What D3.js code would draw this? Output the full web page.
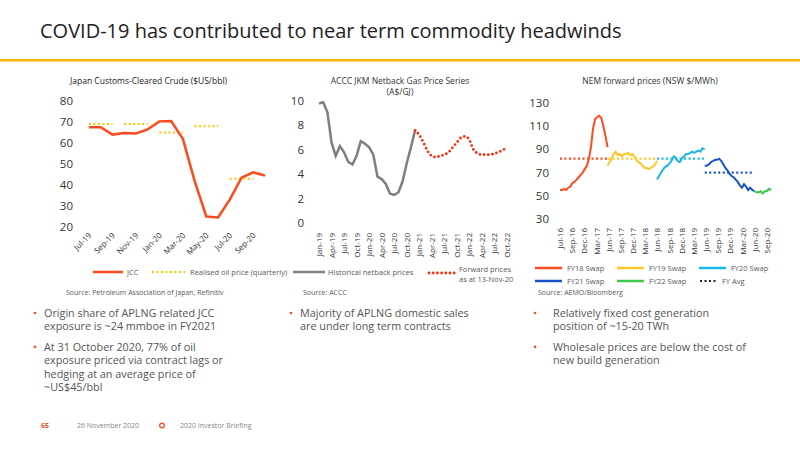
<!DOCTYPE html>
<html><head><meta charset="utf-8">
<script src="https://cdn.jsdelivr.net/npm/d3@7"></script>
<style>body{margin:0;background:#fff}text{font-family:"Open Sans",sans-serif}</style>
</head><body><svg id="s" width="800" height="450"></svg>
<script>
// ---- Chart 1 data
const jccMonths = ["Jul-19","Aug-19","Sep-19","Oct-19","Nov-19","Dec-19","Jan-20","Feb-20","Mar-20","Apr-20","May-20","Jun-20","Jul-20","Aug-20","Sep-20","Oct-20"];
const jccTickLabels = ["Jul-19","Sep-19","Nov-19","Jan-20","Mar-20","May-20","Jul-20","Sep-20"];
const jccValues = [67.5,67.5,64,64.8,64.5,66.5,70.3,70.5,62,42,25,24.5,33,43.5,46,44.5];
const realisedStart = ["Jul-19","Oct-19","Jan-20","Apr-20","Jul-20"];
const realisedValues = [69,69,65,68,43];
// ---- Chart 2 data (monthly from Jan-19)
const gasTickLabels = ["Jan-19","Apr-19","Jul-19","Oct-19","Jan-20","Apr-20","Jul-20","Oct-20","Jan-21","Apr-21","Jul-21","Oct-21","Jan-22","Apr-22","Jul-22","Oct-22"];
const gasHistorical = [9.8,9.9,9.1,6.6,5.5,6.3,5.8,5.0,4.8,5.5,6.7,6.5,6.2,5.6,3.8,3.6,3.2,2.4,2.3,2.5,3.4,4.9,6.2,7.6];
const gasForward = [7.6,7.2,6.6,5.9,5.5,5.4,5.5,5.6,5.8,6.2,6.6,7.0,7.1,6.8,6.0,5.7,5.6,5.6,5.6,5.7,5.8,6.0,6.1]; // from Dec-20
// ---- Chart 3 data (half-monthly values)
const nemTickLabels = ["Jul-16","Sep-16","Dec-16","Mar-17","Jun-17","Sep-17","Dec-17","Mar-18","Jun-18","Sep-18","Dec-18","Mar-19","Jun-19","Sep-19","Dec-19","Mar-20","Jun-20","Sep-20"];
const nemSeriesNames = ["FY18 Swap","FY19 Swap","FY20 Swap","FY21 Swap","FY22 Swap"];
const nemSeriesStart = ["2016-07-01","2017-06-15","2018-06-15","2019-06-01","2020-06-01"];
const fy18 = [55,55,56,55,57,58,61,62,64,66,68,70,73,76,82,92,108,116,118,119,117,110,102,92];
const fy19 = [76,79,82,86,88,85,86,84,86,86,87,85,86,84,81,79,78,76,74,74,73,74,75,77,80];
const fy20 = [64,67,70,73,75,76,78,80,84,83,80,79,82,84,86,86,87,88,87,88,89,88,91,90];
const fy21 = [76,76,77,79,80,81,81,82,80,77,74,72,69,67,66,64,62,59,57,60,58,55,57,55,54];
const fy22 = [54,53,53,54,52,54,54,56,55];
const fyAvgValues = [82,82,82,70];
const fyAvgRange = [["2016-07-01","2017-06-20"],["2017-06-20","2018-06-15"],["2018-06-15","2019-05-25"],["2019-06-01","2020-05-25"]];

const svg = d3.select("#s");
const grey = "#595959";
const nemColors = ["#FF4B1F","#FFC629","#1BB6E8","#1652C8","#3CC84A"];

// Header
svg.append("text").attr("x",40).attr("y",38).attr("font-size",20).attr("font-family","Roboto, sans-serif").attr("fill","#222").text("COVID-19 has contributed to near term commodity headwinds");
svg.append("rect").attr("x",0).attr("y",59).attr("width",800).attr("height",2.5).attr("fill","#F7B500");

function yAxis(g, y, ticks, x) {
  g.append("g").selectAll("text").data(ticks).join("text")
    .attr("x",x).attr("y",d=>y(d)+4).attr("text-anchor","end").attr("font-size",11.5).attr("fill","#333").text(d=>d);
}

// ---- Chart 1
{
  const g = svg.append("g");
  const x = d3.scalePoint().domain(jccMonths).range([89,265]);
  const y = d3.scaleLinear().domain([20,80]).range([227,101]);
  g.append("text").attr("x",70).attr("y",84).attr("font-size",8.5).attr("fill","#222").text("Japan Customs-Cleared Crude ($US/bbl)");
  yAxis(g,y,[20,30,40,50,60,70,80],73);
  g.append("g").selectAll("text").data(jccTickLabels).join("text")
    .attr("transform",d=>`translate(${x(d)+3},${236}) rotate(-45)`).attr("text-anchor","end")
    .attr("font-size",8).attr("fill","#333").text(d=>d);
  realisedStart.forEach((s,i)=>{
    const i0 = jccMonths.indexOf(s);
    g.append("line").attr("x1",x(jccMonths[i0])).attr("x2",x(jccMonths[i0+2])).attr("y1",y(realisedValues[i]))
      .attr("y2",y(realisedValues[i])).attr("stroke","#FFC000").attr("stroke-width",2).attr("stroke-dasharray","2,2.5");
  });
  g.append("path").datum(jccValues).attr("fill","none").attr("stroke","#FF4A1C").attr("stroke-width",2.5)
    .attr("d",d3.line().x((d,i)=>x(jccMonths[i])).y(d=>y(d)));
  g.append("line").attr("x1",93).attr("x2",123).attr("y1",272).attr("y2",272).attr("stroke","#FF4A1C").attr("stroke-width",2.5);
  g.append("text").attr("x",127).attr("y",275).attr("font-size",7.5).attr("fill",grey).text("JCC");
  g.append("line").attr("x1",152).attr("x2",185).attr("y1",272).attr("y2",272).attr("stroke","#FFC000").attr("stroke-width",2).attr("stroke-dasharray","2,2.5");
  g.append("text").attr("x",190).attr("y",275).attr("font-size",7.5).attr("fill",grey).text("Realised oil price (quarterly)");
  g.append("text").attr("x",66).attr("y",295).attr("font-size",7).attr("fill",grey).text("Source: Petroleum Association of Japan, Refinitiv");
}

// ---- Chart 2
{
  const g = svg.append("g");
  const x = d3.scaleLinear().domain([0,45]).range([319,507]);
  const y = d3.scaleLinear().domain([0,10]).range([223,101]);
  g.append("text").attr("x",400).attr("y",84).attr("text-anchor","middle").attr("font-size",8.5).attr("fill","#333").text("ACCC JKM Netback Gas Price Series");
  g.append("text").attr("x",400).attr("y",95).attr("text-anchor","middle").attr("font-size",8.5).attr("fill","#333").text("(A$/GJ)");
  yAxis(g,y,[0,2,4,6,8,10],304);
  g.append("g").selectAll("text").data(gasTickLabels).join("text")
    .attr("transform",(d,i)=>`translate(${x(i*3)+3},${233}) rotate(-90)`).attr("text-anchor","end")
    .attr("font-size",8).attr("fill","#333").text(d=>d);
  g.append("path").datum(gasHistorical).attr("fill","none").attr("stroke","#7F7F7F").attr("stroke-width",2.5)
    .attr("d",d3.line().x((d,i)=>x(i)).y(d=>y(d)));
  g.append("path").datum(gasForward).attr("fill","none").attr("stroke","#FF2A0A").attr("stroke-width",2.8)
    .attr("stroke-linecap","round").attr("stroke-dasharray","0,4.2")
    .attr("d",d3.line().x((d,i)=>x(i+23)).y(d=>y(d)).curve(d3.curveMonotoneX));
  g.append("line").attr("x1",293).attr("x2",325).attr("y1",272).attr("y2",272).attr("stroke","#7F7F7F").attr("stroke-width",2.5);
  g.append("text").attr("x",328).attr("y",275).attr("font-size",7.5).attr("fill",grey).text("Historical netback prices");
  g.append("line").attr("x1",429).attr("x2",455).attr("y1",273).attr("y2",273).attr("stroke","#FF2A0A").attr("stroke-width",2.8).attr("stroke-linecap","round").attr("stroke-dasharray","0,4.2");
  g.append("text").attr("x",459).attr("y",272).attr("font-size",7.5).attr("fill",grey).text("Forward prices");
  g.append("text").attr("x",459).attr("y",282).attr("font-size",7.5).attr("fill",grey).text("as at 13-Nov-20");
  g.append("text").attr("x",303).attr("y",295).attr("font-size",7).attr("fill",grey).text("Source: ACCC");
}

// ---- Chart 3
{
  const g = svg.append("g");
  const parse = d3.timeParse("%Y-%m-%d");
  const x = d3.scaleTime().domain([parse("2016-07-01"),parse("2020-09-01")]).range([560,767]);
  const y = d3.scaleLinear().domain([30,130]).range([219,103]);
  const tickX = d3.scalePoint().domain(nemTickLabels).range([560,767]);
  g.append("text").attr("x",650).attr("y",84).attr("text-anchor","middle").attr("font-size",8.5).attr("fill","#333").text("NEM forward prices (NSW $/MWh)");
  yAxis(g,y,[30,50,70,90,110,130],549);
  g.append("g").selectAll("text").data(nemTickLabels).join("text")
    .attr("transform",d=>`translate(${tickX(d)+3},${228}) rotate(-90)`).attr("text-anchor","end")
    .attr("font-size",8).attr("fill","#333").text(d=>d);
  fyAvgValues.forEach((v,i)=>{
    g.append("line").attr("x1",x(parse(fyAvgRange[i][0]))).attr("x2",x(parse(fyAvgRange[i][1])))
      .attr("y1",y(v)).attr("y2",y(v)).attr("stroke",nemColors[i]).attr("stroke-width",2.2).attr("stroke-dasharray","2,2.5");
  });
  const series = [fy18,fy19,fy20,fy21,fy22];
  series.forEach((vals,si)=>{
    const start = parse(nemSeriesStart[si]);
    const pts = vals.map((v,i)=>({d:d3.timeDay.offset(start, Math.round(i*15.2)), v}));
    g.append("path").datum(pts).attr("fill","none").attr("stroke",nemColors[si]).attr("stroke-width",2)
      .attr("d",d3.line().x(p=>x(p.d)).y(p=>y(p.v)));
  });
  const lx = [535,617,699], ly = [268,281];
  nemSeriesNames.forEach((n,i)=>{
    const cx = lx[i%3], cy = ly[Math.floor(i/3)];
    g.append("line").attr("x1",cx).attr("x2",cx+27).attr("y1",cy).attr("y2",cy).attr("stroke",nemColors[i]).attr("stroke-width",2.5);
    g.append("text").attr("x",cx+32).attr("y",cy+3).attr("font-size",7.5).attr("fill",grey).text(n);
  });
  g.append("line").attr("x1",700).attr("x2",716).attr("y1",281).attr("y2",281).attr("stroke","#222").attr("stroke-width",2.2).attr("stroke-dasharray","2,2.5");
  g.append("text").attr("x",722).attr("y",284).attr("font-size",7.5).attr("fill",grey).text("FY Avg");
  g.append("text").attr("x",538).attr("y",295).attr("font-size",7).attr("fill",grey).text("Source: AEMO/Bloomberg");
}

// ---- Bullets
const bulletCols = [
  {bx:35, tx:44, items:[["Origin share of APLNG related JCC","exposure is ~24 mmboe in FY2021"],["At 31 October 2020, 77% of oil","exposure priced via contract lags or","hedging at an average price of","~US$45/bbl"]]},
  {bx:291, tx:300, items:[["Majority of APLNG domestic sales","are under long term contracts"]]},
  {bx:535, tx:553, items:[["Relatively fixed cost generation","position of ~15-20 TWh"],["Wholesale prices are below the cost of","new build generation"]]}
];
bulletCols.forEach(c=>{
  let yy = 317;
  c.items.forEach(lines=>{
    svg.append("circle").attr("cx",c.bx).attr("cy",yy-4).attr("r",1.3).attr("fill","#FF4A1C");
    lines.forEach(l=>{
      svg.append("text").attr("x",c.tx).attr("y",yy).attr("font-size",10.8).attr("fill","#555").text(l);
      yy += 13.3;
    });
    yy += 7.3;
  });
});

// Footer
svg.append("text").attr("x",41).attr("y",428).attr("font-size",7).attr("font-weight",700).attr("fill","#FF4A1C").text("65");
svg.append("text").attr("x",77).attr("y",428).attr("font-size",7).attr("fill","#888").text("26 November 2020");
svg.append("circle").attr("cx",162).attr("cy",425.5).attr("r",2.3).attr("fill","none").attr("stroke","#FF4A1C").attr("stroke-width",1.3);
svg.append("text").attr("x",180).attr("y",428).attr("font-size",7).attr("fill","#888").text("2020 Investor Briefing");
</script></body></html>
